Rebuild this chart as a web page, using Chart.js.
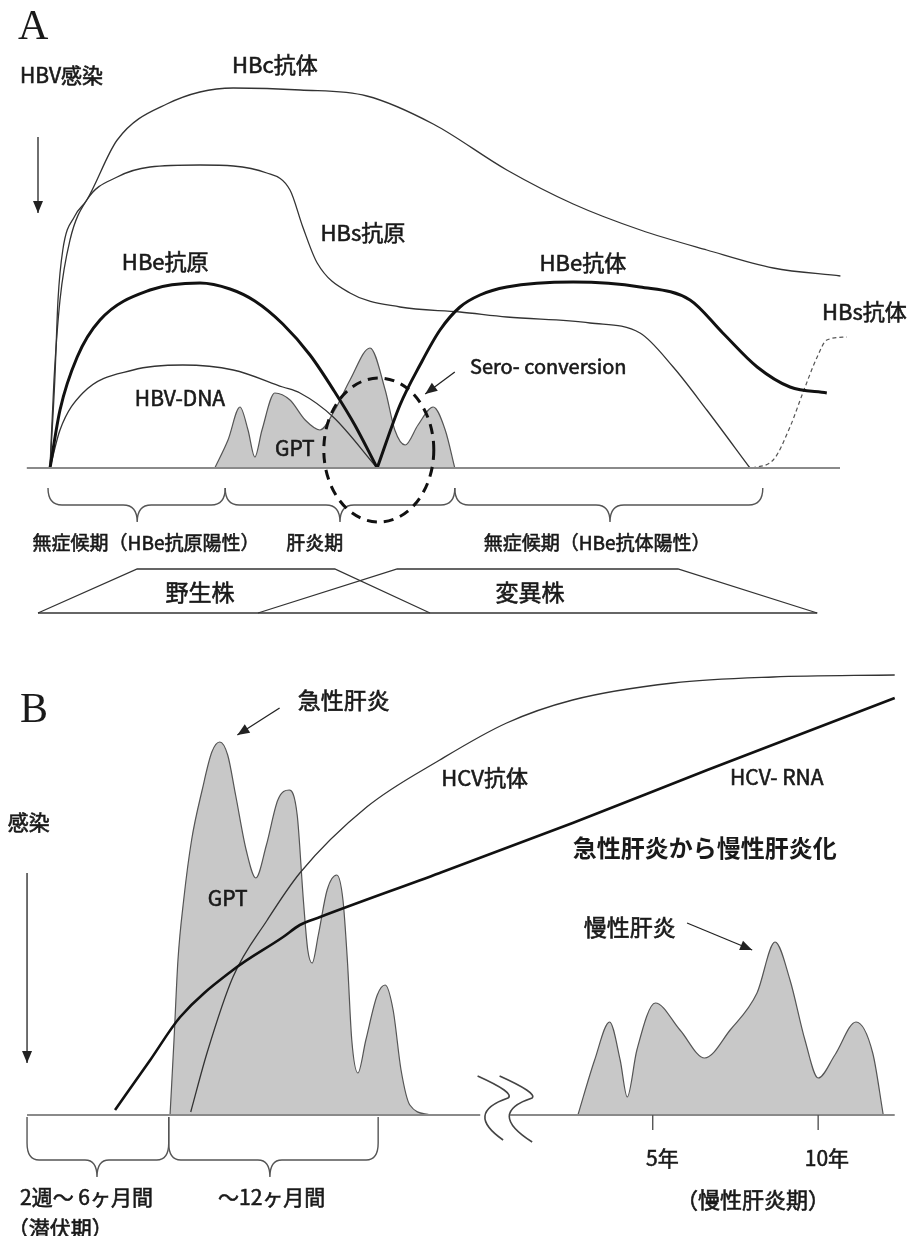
<!DOCTYPE html>
<html lang="ja">
<head>
<meta charset="UTF-8">
<title>HBV / HCV 感染の経過</title>
<script src="https://cdn.jsdelivr.net/npm/chart.js"></script>
<style>
  body { margin: 0; background: #fff; }
  #wrap { width: 918px; height: 1236px; position: relative; background: #fff; }
  canvas { display: block; }
</style>
</head>
<body>
<div id="wrap">
  <canvas id="chartA" width="918" height="620"></canvas>
  <canvas id="chartB" width="918" height="616"></canvas>
</div>
<script>
// ---- パネルA (HBV): 時間 0-100, レベル 0-100 ----
const hbcAbT  = [0, 0.6, 1, 1.6, 3.1, 4.6, 8.4, 14.6, 22.9, 31.3, 39.6, 47.9, 57.1, 65.4, 73.8, 82.1, 90.4, 98.8];
const hbcAbV  = [0, 22, 42, 54.5, 63, 67, 82, 91, 95, 94.5, 93, 86, 74.5, 66, 59.5, 54.5, 50, 48];
const hbsAgT  = [0, 0.5, 1.25, 2.5, 4.6, 8.4, 12.5, 18.75, 27.1, 30, 31.6, 33.4, 37.5, 43.75, 51.25, 57.1, 67.5, 73.75, 77.9, 82.1, 87.5];
const hbsAgV  = [0, 22, 42, 57, 67, 72.75, 75.25, 75.75, 73.75, 69.5, 60.25, 51.25, 43.75, 40.25, 39, 37.75, 36.25, 33.75, 25.25, 14.5, 0];
const hbeAgT  = [0, 1.25, 3.4, 6.25, 12.5, 18.75, 22.5, 25.6, 29.1, 32.5, 35.6, 38.1, 40.9];
const hbeAgV  = [0, 14.5, 27.75, 37, 44.5, 46.25, 44.75, 41.75, 36, 28.25, 19, 10.75, 0];
const hbeAbT  = [40.9, 43.75, 46.25, 48.75, 51.25, 53.75, 57.1, 65.4, 73.75, 80, 84.1, 88.4, 92.5, 97.1];
const hbeAbV  = [0, 15.75, 25.75, 34.5, 40.25, 43.25, 45.25, 46.5, 45.25, 42, 33.75, 25.25, 20.25, 18.75];
const dnaT    = [0, 1.25, 4.1, 10.4, 16.6, 22.9, 29.1, 31.25, 35.4, 40.9];
const dnaV    = [0, 9.5, 18.75, 24.5, 25.75, 24.5, 20.25, 18.75, 12.75, 0];
const gptAT   = [20.6, 22.25, 23.75, 24.75, 25.6, 26.5, 28.1, 30, 31.9, 33.75, 35.6, 37.5, 40, 41.9, 43.1, 44.4, 46, 47.9, 49.4, 50.6];
const gptAV   = [0, 7, 15.25, 9.5, 2.75, 9.5, 18.75, 17, 12, 9.5, 14.5, 22, 30, 19.5, 9.5, 5.75, 10.75, 15.25, 9.5, 0];
const hbsAbT  = [87.75, 90.4, 92.5, 94.1, 95.9, 97.1, 99.6];
const hbsAbV  = [0, 2, 10.25, 18.75, 27.75, 32, 32.75];
const axisAT  = [-2.9, 98.75];

// ---- パネルB (HCV): 時間 0-100, レベル 0-110 ----
const gptAcuteT = [17.05, 17.5, 17.95, 18.6, 19.5, 20.7, 21.8, 22.7, 23.6, 24.5, 25.7, 26.8, 28, 29.3, 30.6, 31.5, 32.2, 32.7, 33.2, 33.9, 34.9, 36, 36.7, 37.2, 37.7, 38.4, 39.3, 40.6, 41.5, 42.4, 43.3, 44.3, 46.6];
const gptAcuteV = [0, 18.75, 38.75, 53.75, 68.75, 81.25, 90.75, 93.25, 90, 80, 66.25, 59.25, 67.5, 78.75, 81.25, 75, 53.75, 41.25, 38, 45, 56.25, 60, 53.75, 38.75, 18.75, 10.5, 18.75, 30, 32.5, 26.25, 11.25, 2.5, 0];
const hcvAbT    = [19.4, 21.25, 24.2, 28.1, 31.8, 39.4, 47.7, 55.3, 62.8, 74.2, 85.6, 99.4];
const hcvAbV    = [0.75, 15.5, 34.5, 48.75, 60.5, 77, 88.75, 98, 103.75, 108, 109.5, 110];
const hcvRnaT   = [10.8, 14.8, 18.2, 24.2, 29.9, 31.8, 34.1, 47.7, 62.8, 78.1, 99.4];
const hcvRnaV   = [1.25, 13.75, 24.5, 36.25, 44.5, 47.5, 49.5, 60.5, 73, 86.25, 104.25];
const gptChronT = [63.4, 65.3, 67, 68.2, 69, 70.1, 72.2, 75, 77.8, 80.7, 83.75, 85.8, 87.5, 89.2, 90.7, 92.6, 95, 96.9, 98.1];
const gptChronV = [0, 13.75, 23.25, 13.75, 4.5, 16.25, 28, 21.25, 14.25, 21.25, 30.5, 43.25, 33.75, 18.75, 9.25, 15, 23.25, 15.5, 0];
const axisB1T   = [0.8, 52.3];
const axisB2T   = [55.7, 99.4];
const yearTicks = [71.9, 90.7];
const yearLabels = ['5年', '10年'];

const FONT = '"Noto Sans CJK JP", "Noto Sans", sans-serif';
const zip = (t, v) => t.map((x, i) => ({ x, y: v[i] }));
const flat = t => t.map(x => ({ x, y: 0 }));

function line(data, opts) {
  return Object.assign({
    data, borderColor: '#333', borderWidth: 1.3, pointRadius: 0,
    cubicInterpolationMode: 'monotone', fill: false, clip: false
  }, opts);
}

function arrow(ctx, x1, y1, x2, y2, len, half) {
  ctx.beginPath();
  ctx.moveTo(x1, y1);
  ctx.lineTo(x2, y2);
  ctx.stroke();
  const a = Math.atan2(y2 - y1, x2 - x1);
  ctx.beginPath();
  ctx.moveTo(x2, y2);
  ctx.lineTo(x2 - len * Math.cos(a) + half * Math.sin(a), y2 - len * Math.sin(a) - half * Math.cos(a));
  ctx.lineTo(x2 - len * Math.cos(a) - half * Math.sin(a), y2 - len * Math.sin(a) + half * Math.cos(a));
  ctx.closePath();
  ctx.fill();
}

function brace(ctx, x1, x2, xt, yTop, yBend, yMid, yTip, r) {
  ctx.beginPath();
  ctx.moveTo(x1, yTop);
  ctx.lineTo(x1, yBend);
  ctx.quadraticCurveTo(x1, yMid, x1 + r, yMid);
  ctx.lineTo(xt - r, yMid);
  ctx.quadraticCurveTo(xt, yMid, xt, yTip);
  ctx.quadraticCurveTo(xt, yMid, xt + r, yMid);
  ctx.lineTo(x2 - r, yMid);
  ctx.quadraticCurveTo(x2, yMid, x2, yBend);
  ctx.lineTo(x2, yTop);
  ctx.stroke();
}

// 注記（文字・括弧・矢印など）はデータ座標で置いてスケールで変換する
function sketch(spec) {
  return {
    id: 'sketch',
    afterDatasetsDraw(chart) {
      const ctx = chart.ctx;
      const X = v => chart.scales.x.getPixelForValue(v);
      const Y = v => chart.scales.y.getPixelForValue(v);
      ctx.save();
      ctx.strokeStyle = '#333';
      ctx.fillStyle = '#222';
      ctx.lineWidth = 1.3;
      (spec.polys || []).forEach(p => {
        ctx.beginPath();
        p.forEach((pt, i) => i ? ctx.lineTo(X(pt[0]), Y(pt[1])) : ctx.moveTo(X(pt[0]), Y(pt[1])));
        ctx.stroke();
      });
      (spec.curves || []).forEach(c => {
        ctx.lineWidth = 1.6;
        ctx.strokeStyle = '#444';
        ctx.beginPath();
        ctx.moveTo(X(c[0][0]), Y(c[0][1]));
        ctx.quadraticCurveTo(X(c[1][0]), Y(c[1][1]), X(c[2][0]), Y(c[2][1]));
        ctx.quadraticCurveTo(X(c[3][0]), Y(c[3][1]), X(c[4][0]), Y(c[4][1]));
        ctx.stroke();
      });
      ctx.strokeStyle = '#555';
      ctx.lineWidth = 1.4;
      (spec.braces || []).forEach(b => {
        brace(ctx, X(b.x1), X(b.x2), X(b.tip), Y(b.top), Y(b.bend), Y(b.mid), Y(b.tipY), b.r);
      });
      (spec.ticks || []).forEach(t => {
        ctx.beginPath();
        ctx.moveTo(X(t), Y(0));
        ctx.lineTo(X(t), Y(-3.75));
        ctx.stroke();
      });
      ctx.strokeStyle = '#222';
      ctx.fillStyle = '#222';
      ctx.lineWidth = 1.3;
      (spec.arrows || []).forEach(a => {
        arrow(ctx, X(a[0]), Y(a[1]), X(a[2]), Y(a[3]), a[4] || 11, a[5] || 4);
      });
      if (spec.ellipse) {
        const e = spec.ellipse;
        const cx = X(e.x), cy = Y(e.y);
        ctx.beginPath();
        ctx.setLineDash([10, 7]);
        ctx.lineWidth = 3;
        ctx.strokeStyle = '#111';
        ctx.ellipse(cx, cy, X(e.x + e.rx) - cx, cy - Y(e.y + e.ry), 0, 0, Math.PI * 2);
        ctx.stroke();
        ctx.setLineDash([]);
      }
      ctx.textBaseline = 'middle';
      (spec.texts || []).forEach(t => {
        ctx.font = (t.bold ? 'bold ' : '') + t.size + 'px ' + (t.font || FONT);
        ctx.textAlign = t.align || 'center';
        ctx.fillStyle = '#1a1a1a';
        ctx.fillText(t.s, X(t.x), Y(t.y));
        if (!t.bold && !t.font) {
          // 元図の文字はやや太いので細い縁取りで太らせる
          ctx.strokeStyle = '#1a1a1a';
          ctx.lineWidth = 0.6;
          ctx.strokeText(t.s, X(t.x), Y(t.y));
        }
      });
      ctx.restore();
    }
  };
}

const specA = {
  polys: [
    [[-1.5, -36.25], [10.9, -25.25], [35.6, -25.25], [47.5, -36.25]],
    [[26, -36.25], [43.4, -25.25], [78.5, -25.25], [95.9, -36.25]],
    [[-1.5, -36.25], [95.9, -36.25]]
  ],
  braces: [
    { x1: -0.25, x2: 21.9, tip: 10.9, top: -5, bend: -5, mid: -9.25, tipY: -13.5, r: 14 },
    { x1: 21.9, x2: 50.6, tip: 36.25, top: -5, bend: -5, mid: -9.25, tipY: -13.5, r: 14 },
    { x1: 50.6, x2: 89.1, tip: 70, top: -5, bend: -5, mid: -9.25, tipY: -13.5, r: 14 }
  ],
  arrows: [
    [-1.5, 82.75, -1.5, 63.75, 12, 5],
    [50.6, 24, 46.9, 18.5, 12, 5]
  ],
  ellipse: { x: 41.1, y: 4.5, rx: 6.875, ry: 18 },
  texts: [
    { s: 'A', x: -4, y: 110, size: 42, align: 'left', font: '"Liberation Serif", serif' },
    { s: 'HBV感染', x: -3.75, y: 98.25, size: 21, align: 'left' },
    { s: 'HBc抗体', x: 28.1, y: 100.75, size: 22 },
    { s: 'HBs抗原', x: 39.1, y: 58.75, size: 22 },
    { s: 'HBe抗原', x: 14.4, y: 51.5, size: 22 },
    { s: 'HBe抗体', x: 66.6, y: 51.25, size: 22 },
    { s: 'HBs抗体', x: 96.5, y: 39, size: 22, align: 'left' },
    { s: 'HBV-DNA', x: 16.25, y: 17.5, size: 21 },
    { s: 'GPT', x: 30.6, y: 5, size: 21 },
    { s: 'Sero- conversion', x: 52.5, y: 25.5, size: 20, align: 'left' },
    { s: '無症候期（HBe抗原陽性）', x: 12, y: -18.75, size: 19 },
    { s: '肝炎期', x: 33.1, y: -18.75, size: 19 },
    { s: '無症候期（HBe抗体陽性）', x: 68.4, y: -18.75, size: 19 },
    { s: '野生株', x: 18.75, y: -31, size: 23 },
    { s: '変異株', x: 60, y: -31, size: 23 }
  ]
};

const specB = {
  curves: [
    [[52, 9.75], [56.3, 5.5], [55.45, 4.25], [50.5, 0.5], [54.9, -6.25]],
    [[54.5, 9.75], [58.8, 5.5], [58.2, 4.25], [53, 0.5], [58.2, -6.75]]
  ],
  braces: [
    { x1: 0.8, x2: 16.9, tip: 8.75, top: -0.5, bend: -7, mid: -11.25, tipY: -15.5, r: 12 },
    { x1: 16.9, x2: 40.7, tip: 28.4, top: -0.5, bend: -7, mid: -11.25, tipY: -15.5, r: 12 }
  ],
  ticks: yearTicks,
  arrows: [
    [29.5, 101.75, 24.7, 95, 12, 5],
    [0.8, 60.5, 0.8, 13, 12, 5],
    [75.8, 48, 83.2, 41.25, 12, 5]
  ],
  texts: [
    { s: 'B', x: 0, y: 101, size: 42, align: 'left', font: '"Liberation Serif", serif' },
    { s: '急性肝炎', x: 36.8, y: 103.75, size: 23 },
    { s: '感染', x: -1.4, y: 73.25, size: 21, align: 'left' },
    { s: 'GPT', x: 23.6, y: 54.25, size: 21 },
    { s: 'HCV抗体', x: 52.8, y: 84.25, size: 22 },
    { s: 'HCV- RNA', x: 86, y: 84.5, size: 21 },
    { s: '急性肝炎から慢性肝炎化', x: 77.8, y: 66.75, size: 24, bold: true },
    { s: '慢性肝炎', x: 69.3, y: 47, size: 23 },
    { s: yearLabels[0], x: 73, y: -10.75, size: 21 },
    { s: yearLabels[1], x: 91.7, y: -10.75, size: 21 },
    { s: '（慢性肝炎期）', x: 83.3, y: -21.25, size: 22 },
    { s: '2週～ 6ヶ月間', x: 0, y: -20.5, size: 21, align: 'left' },
    { s: '（潜伏期）', x: -1.4, y: -28.25, size: 21, align: 'left' },
    { s: '～12ヶ月間', x: 22.5, y: -20.5, size: 21, align: 'left' }
  ]
};

const GRAY = '#c8c8c8';
const baseOpts = (pad, ymax) => ({
  responsive: false,
  animation: false,
  devicePixelRatio: 1,
  layout: { padding: pad },
  scales: {
    x: { type: 'linear', min: 0, max: 100, display: false },
    y: { type: 'linear', min: 0, max: ymax, display: false }
  },
  plugins: { legend: { display: false }, tooltip: { enabled: false } }
});

new Chart(document.getElementById('chartA'), {
  type: 'line',
  data: {
    datasets: [
      line(flat(axisAT), { borderColor: '#8a8a8a', borderWidth: 2.2, cubicInterpolationMode: 'default', tension: 0 }),
      line(zip(hbeAgT, hbeAgV), { borderColor: '#111', borderWidth: 3 }),
      line(zip(hbeAbT, hbeAbV), { borderColor: '#111', borderWidth: 3 }),
      line(zip(hbcAbT, hbcAbV)),
      line(zip(hbsAgT, hbsAgV)),
      line(zip(dnaT, dnaV)),
      line(zip(hbsAbT, hbsAbV), { borderColor: '#555', borderWidth: 1.2, borderDash: [4, 3] }),
      line(zip(gptAT, gptAV), { borderColor: '#555', backgroundColor: GRAY, fill: 'origin', borderWidth: 1.2 })
    ]
  },
  options: baseOpts({ left: 50, right: 68, top: 68, bottom: 152 }, 100),
  plugins: [sketch(specA)]
});

new Chart(document.getElementById('chartB'), {
  type: 'line',
  data: {
    datasets: [
      line(flat(axisB1T), { borderColor: '#8a8a8a', borderWidth: 2.2 }),
      line(flat(axisB2T), { borderColor: '#8a8a8a', borderWidth: 2.2 }),
      line(zip(hcvRnaT, hcvRnaV), { borderColor: '#111', borderWidth: 2.6 }),
      line(zip(hcvAbT, hcvAbV)),
      line(zip(gptAcuteT, gptAcuteV), { borderColor: '#555', backgroundColor: GRAY, fill: 'origin', borderWidth: 1.2 }),
      line(zip(gptChronT, gptChronV), { borderColor: '#555', backgroundColor: GRAY, fill: 'origin', borderWidth: 1.2 })
    ]
  },
  options: baseOpts({ left: 20, right: 18, top: 55, bottom: 121 }, 110),
  plugins: [sketch(specB)]
});
</script>
</body>
</html>
